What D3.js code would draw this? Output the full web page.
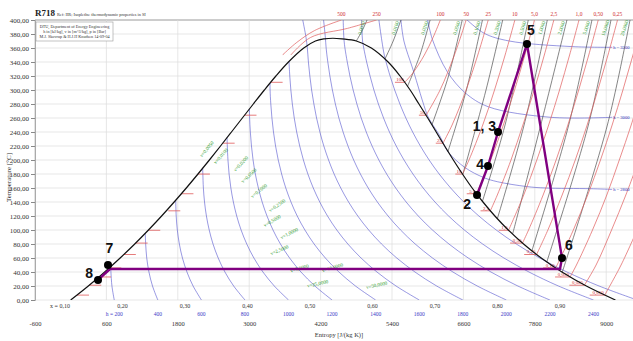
<!DOCTYPE html>
<html><head><meta charset="utf-8">
<script src="https://cdn.jsdelivr.net/npm/d3@7"></script>
<style>body{margin:0;background:#fff}svg{display:block}text{font-family:"Liberation Serif","DejaVu Serif",serif}</style>
</head><body><svg id="c" width="633" height="341"></svg>
<script>
// ---------- DATA (entropy s in J/(kg K), temperature T in °C) ----------
const tempTicks = [0,20,40,60,80,100,120,140,160,180,200,220,240,260,280,300,320,340,360,380,400];
const entropyTicks = [-600,600,1800,3000,4200,5400,6600,7800,9000];
const qualityLabels = ["x = 0,10","0,20","0,30","0,40","0,50","0,60","0,70","0,80","0,90"];

// saturation dome
const satT    = [0.01,20,40,60,80,100,120,140,160,180,200,220,240,260,280,300,320,340,360,370,373,373.95];
const satLiqS = [0,296,572,831,1076,1307,1528,1739,1943,2139,2331,2518,2702,2885,3069,3255,3449,3660,3917,4113,4260,4407];
const satVapS = [9155,8666,8256,7908,7611,7354,7129,6929,6747,6584,6431,6285,6143,6001,5853,5705,5536,5335,5053,4800,4560,4407];

// isobars (bar): saturation temperature and superheated points [s, T]
const isobarLabels = ["500","250","100","50","25","10","5,0","2,5","1,0","0,50","0,25","0,10","0,050","0,025","0,010"];
const isobarTsat   = [null,null,311,264,224,179.9,151.8,127.4,99.6,81.3,65,45.8,32.9,21.1,7];
const isobarSliq   = [null,null,3360,2921,2554,2138,1861,1640,1303,1091,893,649,476,312,106];
const isobarPoints = [
  [[3560,350],[3800,368],[4100,385],[4550,400]],
  [[3700,350],[4030,375],[4650,388],[5140,400]],
  [[5614,311],[5757,325],[5944,350],[6090,375],[6212,400]],
  [[5973,264],[6208,300],[6449,350],[6646,400]],
  [[6257,224],[6410,250],[6646,300],[6842,350],[7017,400]],
  [[6585,179.9],[6694,200],[6925,250],[7123,300],[7301,350],[7465,400]],
  [[6821,151.8],[7059,200],[7271,250],[7460,300],[7633,350],[7794,400]],
  [[7053,127.4],[7170,150],[7400,200],[7600,250],[7790,300],[7960,350],[8120,400]],
  [[7359,99.6],[7614,150],[7834,200],[8033,250],[8216,300],[8385,350],[8543,400]],
  [[7593,81.3],[7695,100],[7940,150],[8158,200],[8356,250],[8538,300],[8707,350],[8866,400]],
  [[7830,65],[8020,100],[8260,150],[8480,200],[8680,250],[8860,300],[9030,350],[9190,400]],
  [[8148,45.8],[8175,50],[8448,100],[8689,150],[8904,200],[9100,250],[9281,300],[9450,350],[9608,400]],
  [[8393,32.9],[8500,50],[8770,100],[9010,150],[9220,200],[9420,250],[9600,300]],
  [[8633,21.1],[8830,50],[9090,100],[9330,150],[9550,200]],
  [[8975,7],[9250,50],[9520,100]]
];

// isenthalps (kJ/kg)
const enthalpyValues = [200,400,600,800,1000,1200,1400,1600,1800,2000,2200,2400,2600,2800,3000,3200];
const enthalpyPoints = [
  [[732,0],[693,20],[676,40],[672,47.7]],
  [[1464,0],[1375,20],[1315,40],[1278,60],[1260,80],[1253,95.5]],
  [[2197,0],[2057,20],[1954,40],[1878,60],[1826,80],[1792,100],[1773,120],[1765,142.5]],
  [[2929,0],[2739,20],[2592,40],[2479,60],[2392,80],[2328,100],[2281,120],[2249,140],[2230,160],[2221,180],[2218,188.3]],
  [[3661,0],[3422,20],[3231,40],[3079,60],[2959,80],[2864,100],[2790,120],[2734,140],[2692,160],[2662,180],[2643,200],[2632,220],[2628,232]],
  [[4393,0],[4104,20],[3870,40],[3679,60],[3525,80],[3400,100],[3299,120],[3218,140],[3154,160],[3103,180],[3065,200],[3038,220],[3019,240],[3007,260],[3004,273]],
  [[5125,0],[4786,20],[4508,40],[4280,60],[4091,80],[3936,100],[3807,120],[3702,140],[3615,160],[3545,180],[3488,200],[3443,220],[3408,240],[3382,260],[3363,280],[3351,300],[3350,310]],
  [[5858,0],[5468,20],[5147,40],[4880,60],[4658,80],[4472,100],[4316,120],[4186,140],[4077,160],[3986,180],[3911,200],[3849,220],[3798,240],[3757,260],[3725,280],[3700,300],[3682,320],[3669,340.8]],
  [[6590,0],[6151,20],[5786,40],[5480,60],[5224,80],[5008,100],[4825,120],[4670,140],[4539,160],[4427,180],[4334,200],[4254,220],[4188,240],[4132,260],[4087,280],[4049,300],[4019,320],[3995,340],[3977,360],[3955,375],[3900,400]],
  [[7322,0],[6833,20],[6424,40],[6081,60],[5790,80],[5544,100],[5334,120],[5154,140],[5000,160],[4869,180],[4756,200],[4660,220],[4578,240],[4507,260],[4448,280],[4398,300],[4356,320],[4321,340],[4293,360],[4280,375],[4250,400]],
  [[8054,0],[7515,20],[7063,40],[6681,60],[6357,80],[6080,100],[5842,120],[5638,140],[5462,160],[5310,180],[5179,200],[5065,220],[4967,240],[4882,260],[4810,280],[4747,300],[4693,320],[4648,340],[4609,360],[4595,370],[4585,385],[4580,400]],
  [[8786,0],[8197,20],[7702,40],[7281,60],[6923,80],[6616,100],[6351,120],[6122,140],[5924,160],[5752,180],[5602,200],[5471,220],[5357,240],[5258,260],[5171,280],[5096,300],[5031,320],[4974,340],[4925,360],[4905,370],[4895,385],[4890,400]],
  [[9519,0],[8880,20],[8340,40],[7882,60],[7489,80],[7152,100],[6860,120],[6606,140],[6386,160],[6193,180],[6024,200],[5877,220],[5747,240],[5633,260],[5533,280],[5445,300],[5368,320],[5300,340],[5270,350],[5230,370],[5180,400]],
  [[9100,158],[8730,159],[7980,160],[7670,162],[7170,169],[6940,175],[6630,189],[6340,212],[6200,235],[6050,255],[5990,265],[5750,330],[5600,370],[5550,400]],
  [[9100,261],[8070,261],[7020,276],[6630,296],[6330,326],[6080,372],[6000,400]],
  [[9100,361],[8430,362],[7370,370],[6950,381],[6650,401]]
];

// isochors (m3/kg) in superheated region
const isochorLabels = ["0,0050","0,0100","0,0200","0,0500","0,1000","0,2000","0,5000","1,0000","2,0000","5,0000","10,0000","20,0000"];
const isochorPoints = [
  [[4800,370],[4900,385],[4980,400]],
  [[5280,344],[5420,370],[5550,400]],
  [[5660,305],[5870,350],[6040,400]],
  [[6070,250],[6350,320],[6580,400]],
  [[6340,212],[6650,300],[6920,400]],
  [[6590,179],[6980,300],[7260,400]],
  [[6920,141],[7300,250],[7690,400]],
  [[7170,116],[7620,250],[8010,400]],
  [[7430,95],[7900,250],[8340,400]],
  [[7750,70],[8370,250],[8760,400]],
  [[8000,54],[8700,250],[9080,400]],
  [[8260,39.5],[9020,250],[9400,400]]
];
// isochor labels inside the two-phase dome
const domeVolLabels = ["v=0,0050","v=0,0100","v=0,0200","v=0,0500","v=0,1000","v=0,2500","v=0,5000","v=1,0000","v=2,5000","v=5,0000","v=10,0000","v=25,0000","v=50,0000"];
const domeVolS = [2308,2543,2879,3013,3181,3484,3400,3686,3518,3854,4408,4156,5148];
const domeVolT = [214,204,193,176,154,133,111,93,69,43,44,21,19];

// cycle
const cycleS = [6829,7013,7182,7669,8257,8224,661,459];
const cycleT = [150,191.4,240,365.7,60,44.3,44.3,28.6];
const stateNames = ["1, 3","2","4","5","6","7","8"];
const stateS = [7182,6829,7013,7669,8257,627,459];
const stateT = [240,150,191.4,365.7,60,50,28.6];

// ---------- DRAWING ----------
const svg = d3.select("#c");
const x = d3.scaleLinear().domain([-600,9000]).range([35,606.2]);
const y = d3.scaleLinear().domain([0,400]).range([300,20]);
const L = d3.line().x(d=>x(d[0])).y(d=>y(d[1])).curve(d3.curveCatmullRom.alpha(0.5));

svg.append("defs").append("clipPath").attr("id","clip")
  .append("rect").attr("x",35).attr("y",20).attr("width",598).attr("height",280);
const grid = svg.append("g");
grid.selectAll("line.h").data(tempTicks).join("line")
  .attr("x1",35).attr("x2",633).attr("y1",d=>y(d)).attr("y2",d=>y(d))
  .attr("stroke",d=>d===400?"#9a9a9a":"#dcdcdc").attr("stroke-width",d=>d===400?1:0.7);
grid.selectAll("line.v").data(entropyTicks.concat([10200])).join("line")
  .attr("x1",d=>x(d)).attr("x2",d=>x(d)).attr("y1",20).attr("y2",300)
  .attr("stroke",d=>d===-600?"#b0b0b0":"#dcdcdc").attr("stroke-width",0.7);

const plot = svg.append("g").attr("clip-path","url(#clip)");

// isenthalps
plot.append("g").selectAll("path").data(enthalpyPoints).join("path")
  .attr("d",L).attr("fill","none").attr("stroke","#3c3cc8").attr("stroke-opacity",0.75).attr("stroke-width",0.7);
// isochors
plot.append("g").selectAll("path").data(isochorPoints).join("path")
  .attr("d",L).attr("fill","none").attr("stroke","#333").attr("stroke-width",0.6);
// isobars
plot.append("g").selectAll("path").data(isobarPoints).join("path")
  .attr("d",L).attr("fill","none").attr("stroke","#e05a5a").attr("stroke-width",0.7);
// liquid-side isobar dashes
const liqIdx = isobarLabels.map((d,i)=>i).filter(i=>isobarTsat[i]!==null);
plot.append("g").selectAll("line").data(liqIdx).join("line")
  .attr("x1",i=>x(isobarSliq[i])).attr("x2",i=>x(isobarSliq[i])+12)
  .attr("y1",i=>y(isobarTsat[i])).attr("y2",i=>y(isobarTsat[i]))
  .attr("stroke","#e05a5a").attr("stroke-width",0.8);
// vapour-side labels
const vl = plot.append("g");
liqIdx.forEach(i=>{
  const px = x(isobarPoints[i][0][0]), py = y(isobarTsat[i]);
  const w = isobarLabels[i].length*2.6+2;
  vl.append("line").attr("x1",px-w).attr("x2",px).attr("y1",py).attr("y2",py).attr("stroke","#e05a5a").attr("stroke-width",0.8);
  vl.append("text").attr("x",px-1).attr("y",py-1.2).attr("text-anchor","end")
    .attr("font-size",5).attr("fill","#d03030").text(isobarLabels[i]);
});
// dome
const dome = satT.map((t,i)=>[satLiqS[i],t]).concat(satT.map((t,i)=>[satVapS[i],t]).reverse().slice(1));
plot.append("path").attr("d",L(dome)).attr("fill","none").attr("stroke","#111").attr("stroke-width",1.2);

// top isobar labels (only where the isobar leaves through the top inside the plot)
svg.append("g").selectAll("text")
  .data(isobarPoints.filter(p=>p[p.length-1][1]===400 && x(p[p.length-1][0])<625)).join("text")
  .attr("x",p=>x(p[p.length-1][0])).attr("y",16).attr("text-anchor","middle")
  .attr("font-size",5.5).attr("fill","#d03030")
  .text(p=>isobarLabels[isobarPoints.indexOf(p)]);

// isochor labels at top
plot.append("g").selectAll("text").data(isochorPoints).join("text")
  .attr("transform",p=>`translate(${x(p[p.length-1][0])-4},${y(388)}) rotate(-72)`)
  .attr("text-anchor","middle").attr("font-size",5).attr("fill","#2a9a2a")
  .text((p,i)=>isochorLabels[i]);
// dome isochor labels
plot.append("g").selectAll("text").data(domeVolLabels).join("text")
  .attr("transform",(d,i)=>`translate(${x(domeVolS[i])},${y(domeVolT[i])}) rotate(${-8-domeVolT[i]*0.2})`)
  .attr("text-anchor","middle").attr("font-size",5).attr("fill","#2a9a2a").text(d=>d);

// right-hand enthalpy labels
svg.append("g").selectAll("text").data(enthalpyPoints.slice(13)).join("text")
  .attr("x",p=>x(p[0][0])+1).attr("y",p=>y(p[0][1])+1.6)
  .attr("font-size",4.6).attr("fill","#2c2cb8")
  .text((p,i)=>"h = "+enthalpyValues[13+i]);

// cycle
plot.append("path").datum(cycleS.map((s,i)=>[s,cycleT[i]]))
  .attr("d",d3.line().x(d=>x(d[0])).y(d=>y(d[1])))
  .attr("fill","none").attr("stroke","#800080").attr("stroke-width",2.4).attr("stroke-linejoin","round");
svg.append("g").selectAll("circle").data(stateNames).join("circle")
  .attr("cx",(d,i)=>x(stateS[i])).attr("cy",(d,i)=>y(stateT[i])).attr("r",4).attr("fill","#000");
const off = {"1, 3":[-2,-1,"end"],"2":[-6,14,"end"],"4":[-4,3,"end"],"5":[0,-9,"start"],"6":[3,-8,"start"],"7":[1.5,-12,"middle"],"8":[-5,-2,"end"]};
svg.append("g").selectAll("text").data(stateNames).join("text")
  .attr("x",(d,i)=>x(stateS[i])+off[d][0]).attr("y",(d,i)=>y(stateT[i])+off[d][1])
  .attr("text-anchor",d=>off[d][2])
  .style("font-family","'Liberation Sans',Arial,sans-serif").attr("font-weight","bold").attr("font-size",14)
  .attr("fill","#111").text(d=>d);

// axes
const ya = svg.append("g").attr("transform","translate(35,0)")
  .call(d3.axisLeft(y).tickValues(tempTicks).tickSize(4).tickPadding(2).tickFormat(d=>d3.format(".2f")(d).replace(".",",")));
ya.select(".domain").attr("stroke","#aaa");
ya.selectAll(".tick line").attr("stroke","#888");
ya.selectAll("text").attr("font-size",7).attr("fill","#333").style("font-family","'Liberation Serif',serif");
const xa = svg.append("g").attr("transform","translate(0,319)")
  .call(d3.axisBottom(x).tickValues(entropyTicks).tickSize(0).tickPadding(2).tickFormat(d=>d));
xa.select(".domain").remove();
xa.selectAll("text").attr("font-size",6.5).attr("fill","#333").style("font-family","'Liberation Serif',serif");

// quality labels
const q = d3.scalePoint().domain(qualityLabels).range([60,560]);
svg.append("g").selectAll("text").data(qualityLabels).join("text")
  .attr("x",d=>q(d)).attr("y",308).attr("text-anchor","middle").attr("font-size",6).attr("fill","#333").text(d=>d);
// bottom enthalpy labels
svg.append("g").selectAll("text").data(enthalpyPoints.slice(0,12)).join("text")
  .attr("x",p=>x(p[0][0])).attr("y",316).attr("text-anchor","middle").attr("font-size",5.5).attr("fill","#3c3cc8")
  .text((p,i)=>(i===0?"h = ":"")+enthalpyValues[i]);

// titles
svg.append("text").attr("x",35).attr("y",16).attr("font-size",9).attr("font-weight","bold").attr("fill","#222").text("R718");
svg.append("text").attr("x",57).attr("y",16).attr("font-size",4.3).attr("fill","#333").text("Ref: IIR; Isopleths: thermodynamic properties in SI");
svg.append("rect").attr("x",36).attr("y",22).attr("width",77).attr("height",19).attr("fill","#fff").attr("stroke","#999").attr("stroke-width",0.6);
["DTU, Department of Energy Engineering","h in [kJ/kg], v in [m^3/kg], p in [Bar]","M.J. Skovrup & H.J.H Knudsen 14-09-04"].forEach((t,i)=>{
  svg.append("text").attr("x",74.5).attr("y",27.5+i*5).attr("text-anchor","middle").attr("font-size",4.2).attr("fill","#333").text(t);
});
svg.append("text").attr("transform",`translate(11,${y(175)}) rotate(-90)`).attr("text-anchor","middle")
  .attr("font-size",7).attr("fill","#333").text("Temperature [°C]");
svg.append("text").attr("x",339).attr("y",337).attr("text-anchor","middle").attr("font-size",6.5).attr("fill","#333").text("Entropy [J/(kg K)]");
</script></body></html>
